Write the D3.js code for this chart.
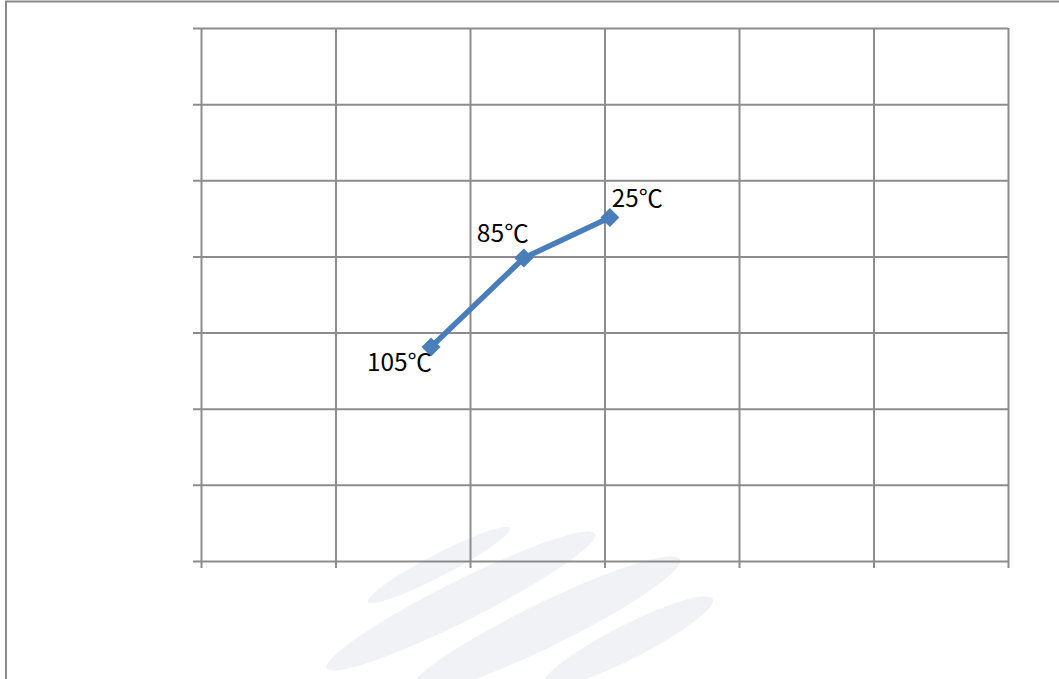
<!DOCTYPE html>
<html><head><meta charset="utf-8">
<script src="https://cdn.jsdelivr.net/npm/d3@7"></script>
<style>html,body{margin:0;padding:0;background:#fff;overflow:hidden}</style>
</head><body>
<svg id="c" width="1059" height="679"></svg>
<script>
const labels = ["105℃", "85℃", "25℃"];
const xValues = [1.71, 2.40, 3.04];
const yValues = [2.81, 3.98, 4.51];
const xTicks = [0, 1, 2, 3, 4, 5, 6];
const yTicks = [0, 1, 2, 3, 4, 5, 6, 7];

(function () {
const svg = d3.select("#c");
const pL = 201, pR = 1008, pT = 28, pB = 561;
const x = d3.scaleLinear().domain([0, 6]).range([pL, pR]);
const y = d3.scaleLinear().domain([0, 7]).range([pB, pT]);
const grid = "#8c8c8c";

// watermark
const wm = svg.append("g").attr("fill", "#f1f2f6");
[[439,565,80,11,-27.5],[461,601,150,20,-26.6],[545,625,150,22,-26],[628,642,95,17,-27]].forEach(e=>{
  wm.append("ellipse").attr("cx",e[0]).attr("cy",e[1]).attr("rx",e[2]).attr("ry",e[3])
    .attr("transform",`rotate(${e[4]},${e[0]},${e[1]})`);
});

// outer frame
svg.append("path").attr("d","M6,700 L6,1.5 L1070,1.5").attr("fill","none")
  .attr("stroke","#8a8a8a").attr("stroke-width",2);

// horizontal gridlines with left tick marks
const ya = svg.append("g").attr("transform", `translate(${pL - 8},0)`)
  .call(d3.axisRight(y).tickValues(yTicks).tickSize(pR - pL + 8).tickSizeOuter(0).tickFormat(""));
ya.select(".domain").remove();
ya.selectAll("line").attr("stroke", grid).attr("stroke-width", 2);

// vertical gridlines with bottom tick marks
const xa = svg.append("g").attr("transform", `translate(0,${pB + 7})`)
  .call(d3.axisTop(x).tickValues(xTicks).tickSize(pB - pT + 7).tickSizeOuter(0).tickFormat(""));
xa.select(".domain").remove();
xa.selectAll("line").attr("stroke", grid).attr("stroke-width", 2);

const pts = xValues.map((v, i) => ({x: v, y: yValues[i], label: labels[i]}));
svg.append("path").datum(pts)
  .attr("d", d3.line().x(d => x(d.x)).y(d => y(d.y)))
  .attr("fill", "none").attr("stroke", "#4a7ebb").attr("stroke-width", 5.5)
  .attr("stroke-linejoin", "round");

svg.selectAll(".m").data(pts).enter().append("path")
  .attr("transform", d => `translate(${x(d.x)},${y(d.y)})`)
  .attr("d", d3.symbol().type(d3.symbolDiamond2).size(230))
  .attr("fill", "#4a7ebb");

const offs = [[-64, 24], [-47, -16], [2, -11]];
svg.selectAll(".l").data(pts).enter().append("text")
  .attr("x", (d, i) => x(d.x) + offs[i][0])
  .attr("y", (d, i) => y(d.y) + offs[i][1])
  .attr("font-family", "Noto Sans CJK SC, Noto Sans, sans-serif").attr("font-size", 24).attr("fill", "#000")
  .attr("textLength", (d, i) => [65, 52, 51][i]).attr("lengthAdjust", "spacingAndGlyphs")
  .text(d => d.label);
})();
</script>
</body></html>
